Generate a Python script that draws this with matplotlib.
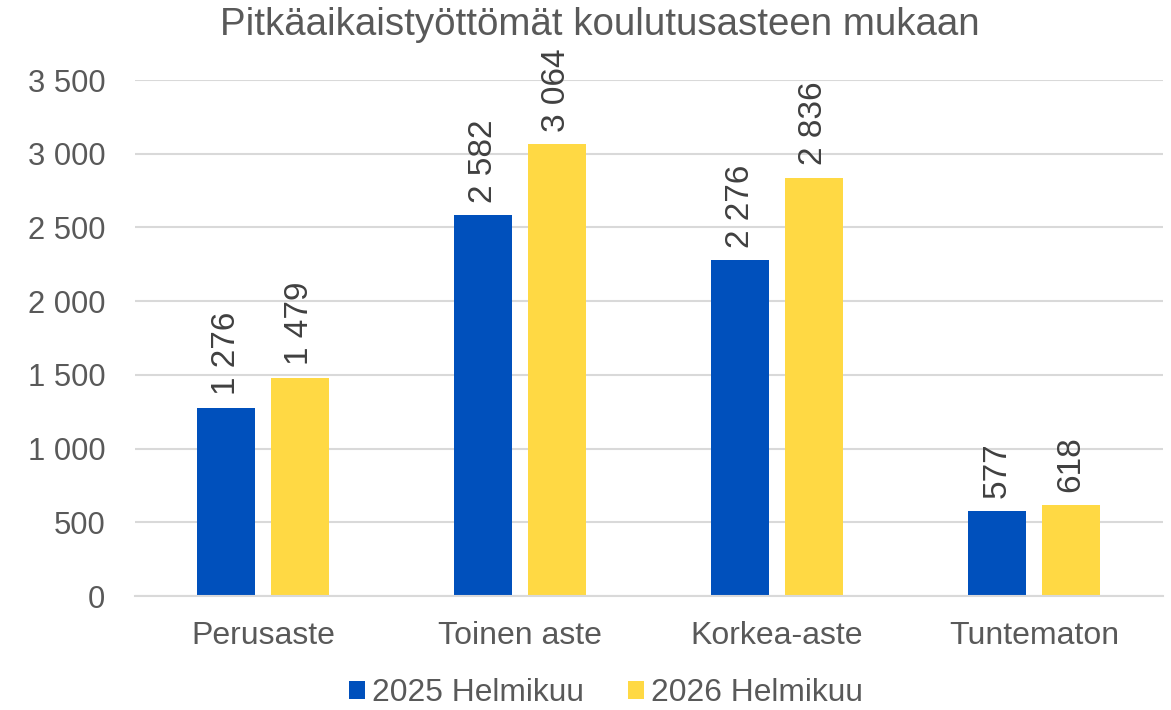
import matplotlib.pyplot as plt
import numpy as np

# Pitkäaikaistyöttömät koulutusasteen mukaan
categories = ["Perusaste", "Toinen aste", "Korkea-aste", "Tuntematon"]
series_names = ["2025 Helmikuu", "2026 Helmikuu"]
values_2025 = [1276, 2582, 2276, 577]
values_2026 = [1479, 3064, 2836, 618]
yticks = [0, 500, 1000, 1500, 2000, 2500, 3000, 3500]

blue = "#0050BC"
yellow = "#FFD944"
grey_text = "#595959"

plt.rcParams['font.family'] = ['Liberation Sans', 'DejaVu Sans']

def fmt(v):
    return f"{v:,}".replace(",", " ")

fig = plt.figure(figsize=(11.71, 7.10), dpi=100)
ax = fig.add_axes([134.5 / 1171, 1 - 596 / 710, 1028 / 1171, 516 / 710])

x = np.arange(len(categories))
w = 0.226
off = 0.143
b1 = ax.bar(x - off, values_2025, w, color=blue, label=series_names[0], zorder=3)
b2 = ax.bar(x + off, values_2026, w, color=yellow, label=series_names[1], zorder=3)

for bars, vals in ((b1, values_2025), (b2, values_2026)):
    for rect, v in zip(bars, vals):
        ax.annotate(fmt(v), (rect.get_x() + rect.get_width() / 2, v),
                    xytext=(0, 9), textcoords="offset points",
                    rotation=90, ha="center", va="bottom",
                    fontsize=24, color="#404040")

ax.set_xlim(-0.5, len(categories) - 0.5)
ax.set_ylim(0, 3500)
ax.set_yticks(yticks)
ax.set_yticklabels([fmt(t) for t in yticks])
ax.set_xticks(x)
ax.set_xticklabels(categories)
ax.tick_params(axis="y", length=0, pad=21, labelsize=22.3, labelcolor=grey_text)
ax.tick_params(axis="x", length=0, pad=18, labelsize=23, labelcolor=grey_text)
ax.grid(axis="y", color="#D9D9D9", linewidth=1.5, zorder=0)
ax.set_axisbelow(True)
for s in ("top", "right", "left"):
    ax.spines[s].set_visible(False)
ax.spines["bottom"].set_color("#D9D9D9")
ax.spines["bottom"].set_linewidth(1.5)
ax.spines["bottom"].set_zorder(4)

fig.text(600 / 1171, 1 - 25 / 710, "Pitkäaikaistyöttömät koulutusasteen mukaan",
         ha="center", va="center", fontsize=27.7, color=grey_text)

fig.legend(loc="center", bbox_to_anchor=(606 / 1171, 1 - 693 / 710), ncol=2,
           frameon=False, fontsize=22.9, labelcolor=grey_text,
           handlelength=0.5, handleheight=0.5, handletextpad=0.22,
           columnspacing=1.38)

fig.savefig("out.png", dpi=100)
